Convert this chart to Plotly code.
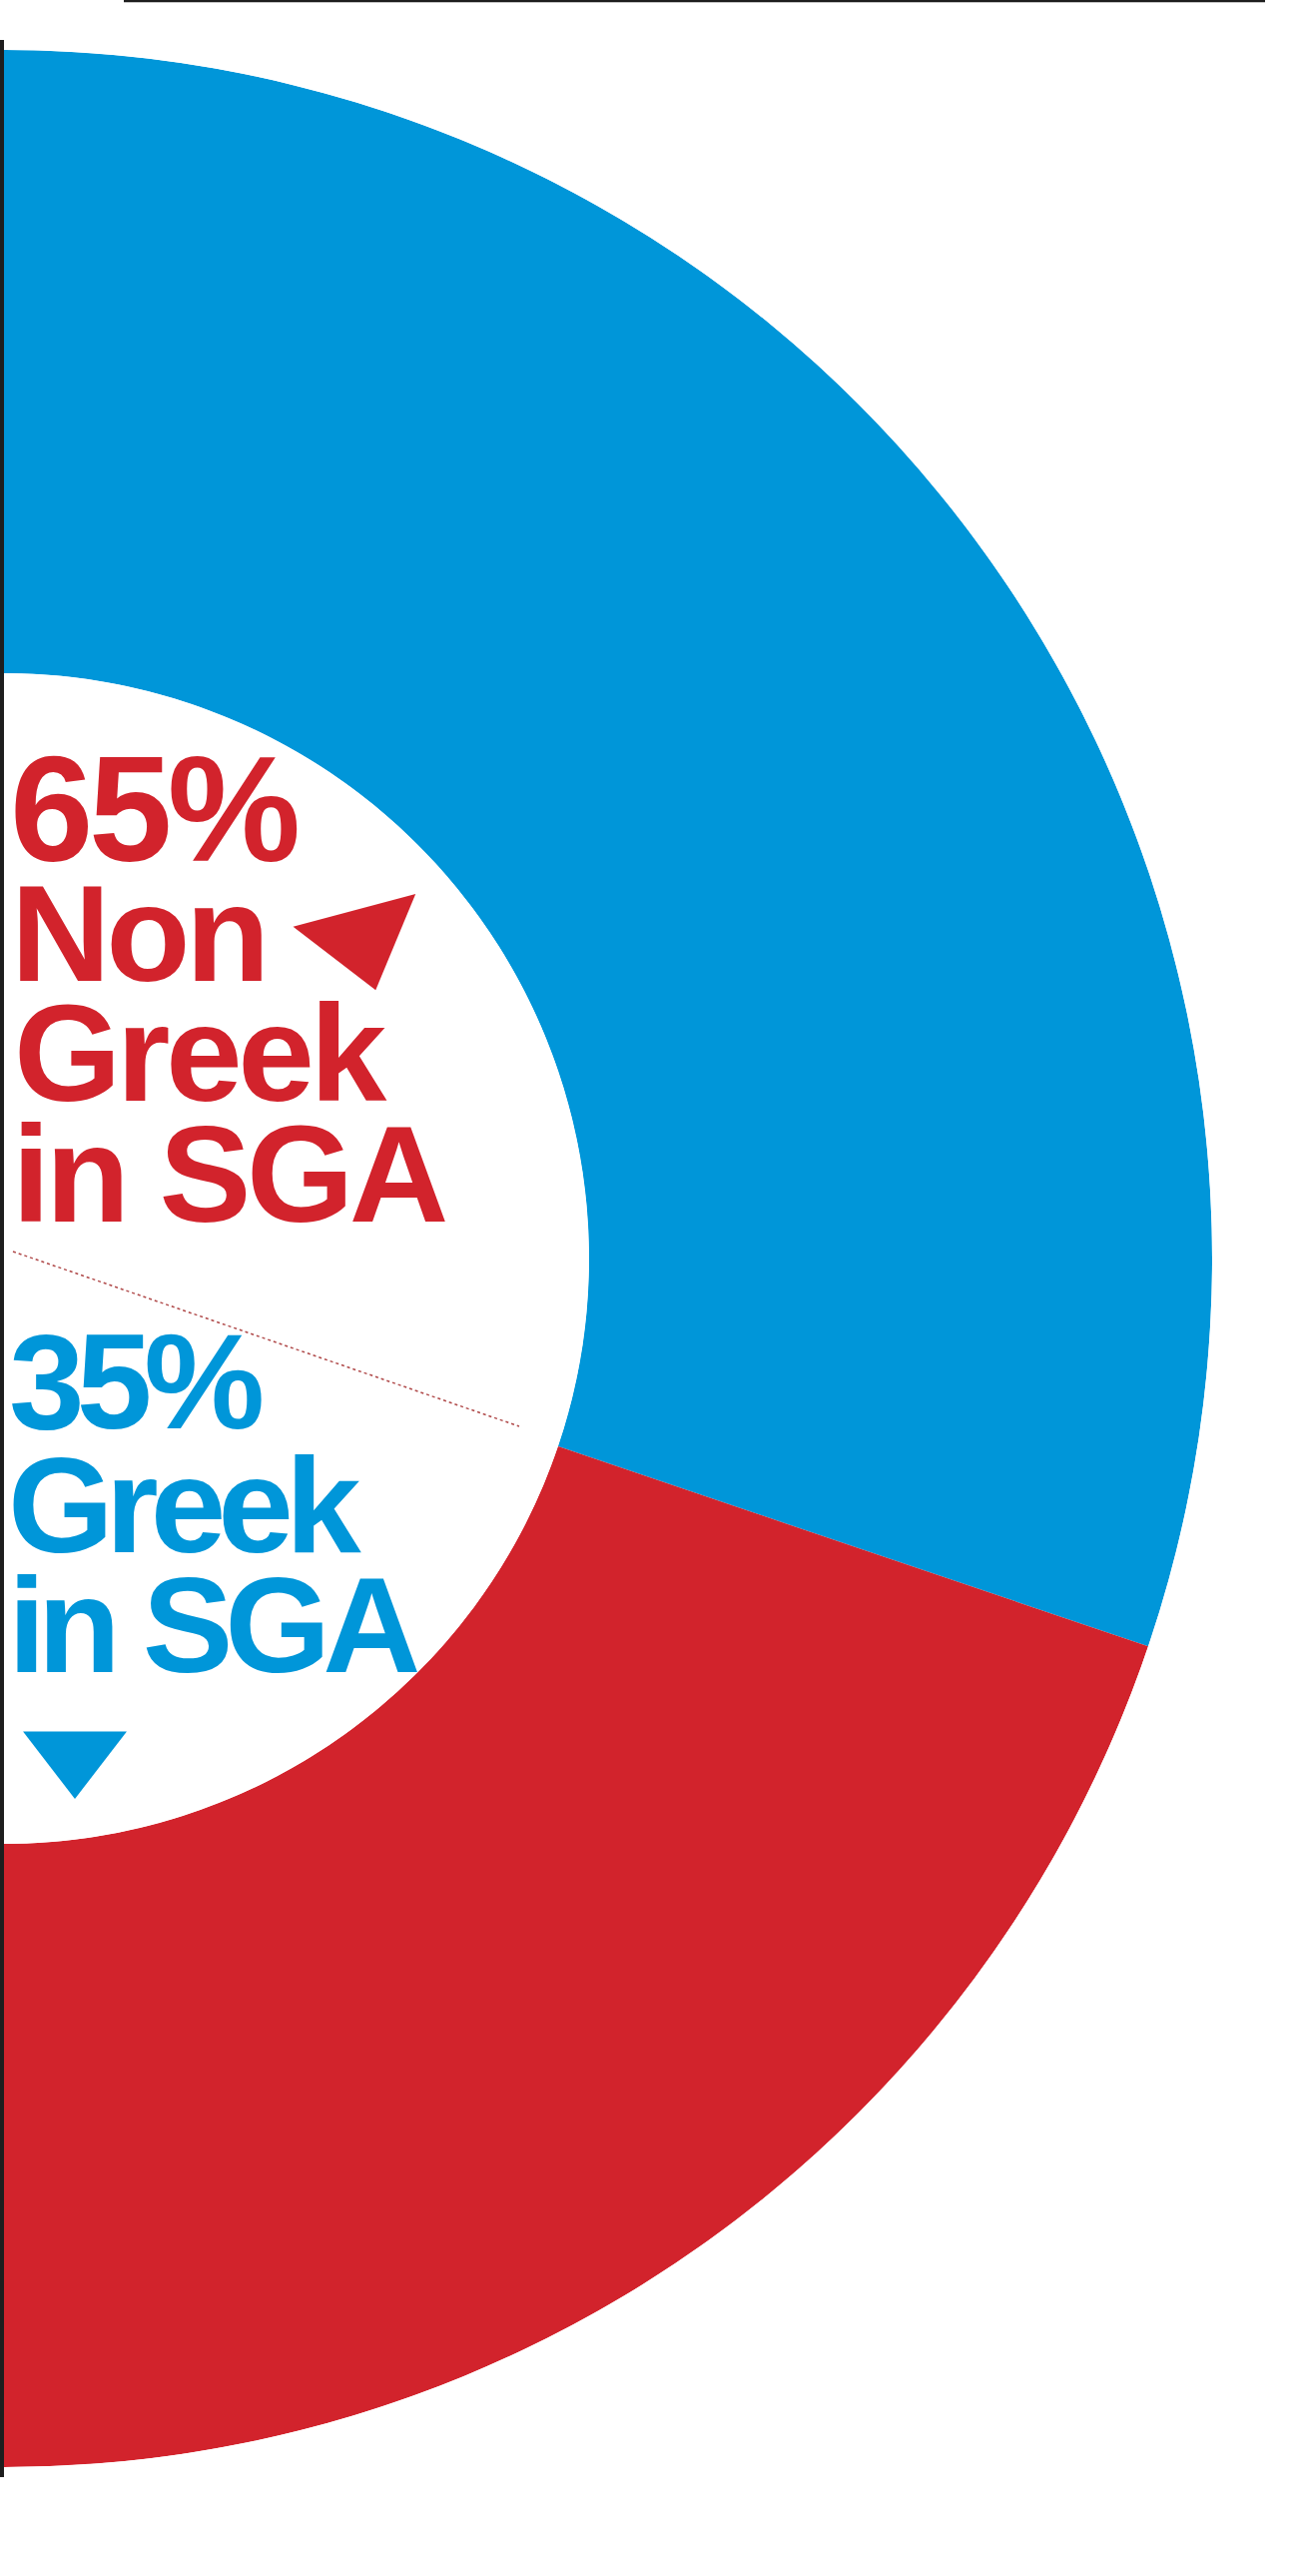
import plotly.graph_objects as go

# ---------------- data ----------------
categories = ["Greek in SGA", "Non Greek in SGA"]
label_pct = [35, 65]                 # percentages printed in the labels
arc_share = [60.4, 39.6]             # share of the half ring as drawn
slice_colors = ["#0096D9", "#D2232C"]

red_lines = ["65%", "Non", "Greek", "in SGA"]
blue_lines = ["35%", "Greek", "in SGA"]

# ---------------- figure geometry ----------------
W, H = 1298, 2579
CX, CY, R_OUT, R_IN = 4, 1260, 1210, 586
RED, BLUE = slice_colors[1], slice_colors[0]

# angular extents of the slices (half ring = 180 degrees)
widths = [a / 100.0 * 180.0 for a in arc_share]
centers, start = [], 0.0
for w in widths:
    centers.append(start + w / 2.0)
    start += w

fig = go.Figure()

fig.add_trace(go.Barpolar(
    r=[1, 1], theta=centers, width=widths, text=categories,
    marker=dict(color=slice_colors, line=dict(width=0)),
    subplot="polar", showlegend=False, hoverinfo="text",
))

# decorative lines on an invisible pixel-based cartesian layer
fig.add_trace(go.Scatter(x=[2, 2], y=[40, 2480], mode="lines",
                         line=dict(color="#1e1e1e", width=4),
                         showlegend=False, hoverinfo="skip"))
fig.add_trace(go.Scatter(x=[124, 1267], y=[1, 1], mode="lines",
                         line=dict(color="#1e1e1e", width=2.5),
                         showlegend=False, hoverinfo="skip"))
fig.add_trace(go.Scatter(x=[13, 520], y=[1253, 1428], mode="lines",
                         line=dict(color="#b04a4a", width=1.5, dash="dot"),
                         showlegend=False, hoverinfo="skip"))
# pointer triangles
fig.add_trace(go.Scatter(x=[362], y=[938], mode="markers",
                         marker=dict(symbol="triangle-down", size=110, angle=-15,
                                     color=RED, line=dict(width=0)),
                         showlegend=False, hoverinfo="skip"))
fig.add_trace(go.Scatter(x=[75], y=[1756], mode="markers",
                         marker=dict(symbol="triangle-down", size=90,
                                     color=BLUE, line=dict(width=0)),
                         showlegend=False, hoverinfo="skip"))

annotations = []
def add_line(txt, x, yc, size, color, ls):
    annotations.append(dict(
        x=x, y=yc, xref="x", yref="y", xanchor="left", yanchor="middle",
        text='<span style="letter-spacing:%spx">%s</span>' % (ls, txt),
        showarrow=False,
        font=dict(family="Liberation Sans, Arial, sans-serif", size=size,
                  color=color, weight="bold"),
    ))

# red block (Non Greek)
red_sizes = [150, 138, 138, 138]
red_x = [8, 9, 12, 10]
red_base = [862, 982, 1102, 1223]
for t, s, x, b in zip(red_lines, red_sizes, red_x, red_base):
    add_line(t, x, b - 0.3465 * s, s, RED, -4.5)

# blue block (Greek)
blue_sizes = [136, 136, 136]
blue_x = [7, 6, 6]
blue_base = [1430, 1554, 1674]
for t, s, x, b in zip(blue_lines, blue_sizes, blue_x, blue_base):
    add_line(t, x, b - 0.3465 * s, s, BLUE, -8)

fig.update_layout(
    width=W, height=H,
    margin=dict(l=0, r=0, t=0, b=0),
    paper_bgcolor="white", plot_bgcolor="rgba(0,0,0,0)",
    showlegend=False,
    xaxis=dict(range=[0, W], visible=False, domain=[0, 1], fixedrange=True),
    yaxis=dict(range=[H, 0], visible=False, domain=[0, 1], fixedrange=True),
    polar=dict(
        domain=dict(x=[CX / W, (CX + R_OUT) / W],
                    y=[1 - (CY + R_OUT) / H, 1 - (CY - R_OUT) / H]),
        sector=[-90, 90],
        hole=R_IN / R_OUT,
        bgcolor="rgba(0,0,0,0)",
        radialaxis=dict(visible=False, range=[0, 1]),
        angularaxis=dict(visible=False, direction="clockwise", rotation=90,
                         thetaunit="degrees"),
    ),
    annotations=annotations,
)

fig.write_html("out.html",
               config={"displayModeBar": False},
               post_script="document.body.style.margin='0';document.body.style.overflow='hidden';")
